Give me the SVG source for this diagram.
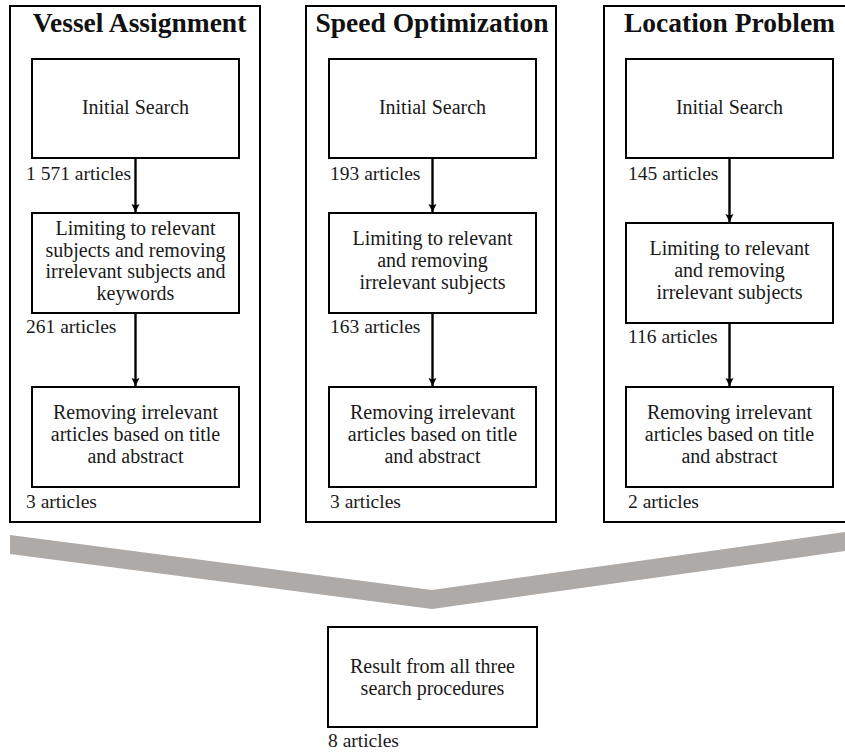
<svg xmlns="http://www.w3.org/2000/svg" width="845" height="753" viewBox="0 0 845 753" font-family="Liberation Serif, DejaVu Serif, serif">
  <style>
    .panel { fill: #fff; stroke: #000; stroke-width: 2; }
    .box { fill: #fff; stroke: #000; stroke-width: 2; }
    .heading { font-weight: bold; font-size: 27.5px; fill: #111; text-anchor: middle; }
    .step { font-size: 20px; fill: #1a1a1a; text-anchor: middle; }
    .count { font-size: 19.5px; fill: #1a1a1a; }
    .conn { stroke: #000; stroke-width: 2.4; fill: none; marker-end: url(#head); }
  </style>
  <defs>
    <marker id="head" markerUnits="userSpaceOnUse" markerWidth="10" markerHeight="10" refX="8" refY="4" orient="auto">
      <path d="M0,0 L8,4 L0,8 L1.5,4 Z" fill="#000"/>
    </marker>
  </defs>

  <rect width="845" height="753" fill="#fff"/>

  <!-- Vessel Assignment panel -->
  <g id="panel-vessel">
    <rect class="panel" x="10" y="6" width="250" height="516"/>
    <text class="heading" x="139.5" y="32" font-family="Liberation Serif, serif">Vessel Assignment</text>
  </g>
  <g id="va-initial" font-family="Liberation Serif, serif">
    <rect class="box" x="32" y="59" width="207" height="99"/>
    <text class="step" x="135.5" y="114">Initial Search</text>
    <text class="count" x="26" y="180">1 571 articles</text>
  </g>
  <g id="va-limit" font-family="Liberation Serif, serif">
    <rect class="box" x="32" y="213" width="207" height="100"/>
    <text class="step" x="135.5" y="235">Limiting to relevant</text>
    <text class="step" x="135.5" y="257">subjects and removing</text>
    <text class="step" x="135.5" y="278">irrelevant subjects and</text>
    <text class="step" x="135.5" y="300">keywords</text>
    <text class="count" x="26" y="333">261 articles</text>
  </g>
  <g id="va-remove" font-family="Liberation Serif, serif">
    <rect class="box" x="32" y="387" width="207" height="100"/>
    <text class="step" x="135.5" y="419">Removing irrelevant</text>
    <text class="step" x="135.5" y="441">articles based on title</text>
    <text class="step" x="135.5" y="463">and abstract</text>
    <text class="count" x="26" y="508">3 articles</text>
  </g>

  <!-- Speed Optimization panel -->
  <g id="panel-speed" font-family="Liberation Serif, serif">
    <rect class="panel" x="306" y="6" width="250" height="516"/>
    <text class="heading" x="432" y="32">Speed Optimization</text>
  </g>
  <g id="so-initial" font-family="Liberation Serif, serif">
    <rect class="box" x="329" y="59" width="207" height="99"/>
    <text class="step" x="432.5" y="114">Initial Search</text>
    <text class="count" x="330" y="180">193 articles</text>
  </g>
  <g id="so-limit" font-family="Liberation Serif, serif">
    <rect class="box" x="329" y="213" width="207" height="100"/>
    <text class="step" x="432.5" y="245">Limiting to relevant</text>
    <text class="step" x="432.5" y="267">and removing</text>
    <text class="step" x="432.5" y="289">irrelevant subjects</text>
    <text class="count" x="330" y="333">163 articles</text>
  </g>
  <g id="so-remove" font-family="Liberation Serif, serif">
    <rect class="box" x="329" y="387" width="207" height="100"/>
    <text class="step" x="432.5" y="419">Removing irrelevant</text>
    <text class="step" x="432.5" y="441">articles based on title</text>
    <text class="step" x="432.5" y="463">and abstract</text>
    <text class="count" x="330" y="508">3 articles</text>
  </g>

  <!-- Location Problem panel -->
  <g id="panel-location" font-family="Liberation Serif, serif">
    <rect class="panel" x="604" y="6" width="252" height="516"/>
    <text class="heading" x="729.5" y="32">Location Problem</text>
  </g>
  <g id="lp-initial" font-family="Liberation Serif, serif">
    <rect class="box" x="626" y="59" width="207" height="99"/>
    <text class="step" x="729.5" y="114">Initial Search</text>
    <text class="count" x="628" y="180">145 articles</text>
  </g>
  <g id="lp-limit" font-family="Liberation Serif, serif">
    <rect class="box" x="626" y="223" width="207" height="100"/>
    <text class="step" x="729.5" y="255">Limiting to relevant</text>
    <text class="step" x="729.5" y="277">and removing</text>
    <text class="step" x="729.5" y="299">irrelevant subjects</text>
    <text class="count" x="628" y="343">116 articles</text>
  </g>
  <g id="lp-remove" font-family="Liberation Serif, serif">
    <rect class="box" x="626" y="387" width="207" height="100"/>
    <text class="step" x="729.5" y="419">Removing irrelevant</text>
    <text class="step" x="729.5" y="441">articles based on title</text>
    <text class="step" x="729.5" y="463">and abstract</text>
    <text class="count" x="628" y="508">2 articles</text>
  </g>

  <!-- Merge chevron -->
  <g id="merge">
    <polygon points="10,535 432,590 845,532 845,551 432,609 10,554" fill="#aeaaa8"/>
  </g>

  <!-- Combined result -->
  <g id="result" font-family="Liberation Serif, serif">
    <rect class="box" x="328" y="627" width="209" height="100"/>
    <text class="step" x="432.5" y="673">Result from all three</text>
    <text class="step" x="432.5" y="695">search procedures</text>
    <text class="count" x="328" y="747">8 articles</text>
  </g>

  <!-- Connectors -->
  <g id="connectors">
    <line class="conn" x1="135.5" y1="158" x2="135.5" y2="212"/>
    <line class="conn" x1="135.5" y1="313" x2="135.5" y2="386"/>
    <line class="conn" x1="432.5" y1="158" x2="432.5" y2="212"/>
    <line class="conn" x1="432.5" y1="313" x2="432.5" y2="386"/>
    <line class="conn" x1="729.5" y1="158" x2="729.5" y2="222"/>
    <line class="conn" x1="729.5" y1="323" x2="729.5" y2="386"/>
  </g>
</svg>
